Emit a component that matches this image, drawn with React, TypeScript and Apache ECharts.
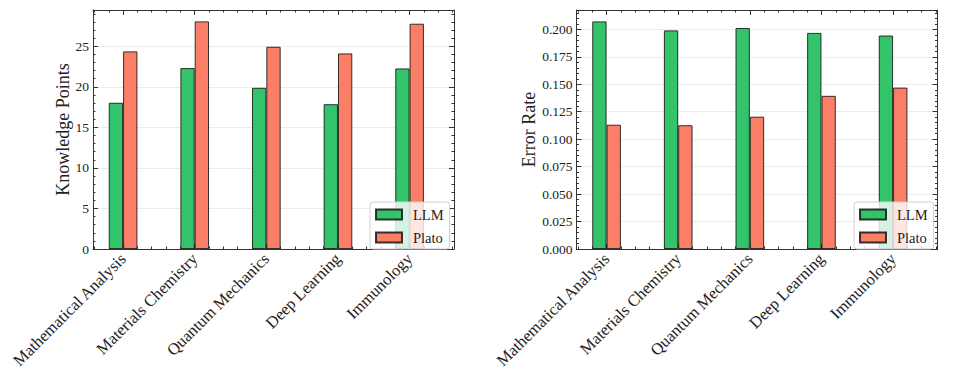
import React, { useEffect, useRef } from "react";
import * as echarts from "echarts";

const categories = [
  "Mathematical Analysis",
  "Materials Chemistry",
  "Quantum Mechanics",
  "Deep Learning",
  "Immunology",
];
const seriesNames = ["LLM", "Plato"];
const knowledgeLLM = [18.03, 22.31, 19.88, 17.86, 22.27];
const knowledgePlato = [24.37, 28.07, 24.94, 24.12, 27.78];
const errorLLM = [0.2073, 0.1991, 0.2013, 0.1968, 0.1944];
const errorPlato = [0.1132, 0.1127, 0.1205, 0.1395, 0.147];
const knowledgeTicks = [0, 5, 10, 15, 20, 25];
const errorTicks = [0, 0.025, 0.05, 0.075, 0.1, 0.125, 0.15, 0.175, 0.2];

const FONT = "'Liberation Serif', 'Times New Roman', serif";
const TEXT = "#222";
const LINE = "#333";
const GREEN = "#33c46b";
const RED = "#fb7f66";

function minorsBetween(step: number, sub: number, lo: number, hi: number) {
  const out: number[] = [];
  const d = step / sub;
  const start = Math.ceil(lo / d - 1e-9);
  const end = Math.floor(hi / d + 1e-9);
  for (let k = start; k <= end; k++) {
    if (k % sub === 0) continue;
    out.push(+(k * d).toFixed(6));
  }
  return out;
}

export default function App() {
  const ref = useRef<HTMLDivElement>(null);
  useEffect(() => {
    if (!ref.current) return;
    const chart = echarts.init(ref.current, undefined, { renderer: "svg" });

    const xMin = -0.42;
    const xMax = 4.62;
    const xMajors = categories.map((_, i) => i);
    const xMinors = minorsBetween(1, 5, xMin, xMax);

    const panels = [
      {
        left: 93,
        name: "Knowledge Points",
        nameGap: 20,
        llm: knowledgeLLM,
        plato: knowledgePlato,
        ticks: knowledgeTicks,
        step: 5,
        sub: 5,
        fmt: (v: number) => String(v),
        legendLeft: 370,
      },
      {
        left: 576.5,
        name: "Error Rate",
        nameGap: 38,
        llm: errorLLM,
        plato: errorPlato,
        ticks: errorTicks,
        step: 0.025,
        sub: 5,
        fmt: (v: number) => v.toFixed(3),
        legendLeft: 854,
      },
    ];

    const grids: any[] = [];
    const xAxes: any[] = [];
    const yAxes: any[] = [];
    const series: any[] = [];
    const legends: any[] = [];

    panels.forEach((p, g) => {
      const yMax = Math.max(...p.llm, ...p.plato) * 1.05;
      const yMinors = minorsBetween(p.step, p.sub, 0, yMax);
      grids.push({ left: p.left, top: 10, width: 361, height: 239, containLabel: false });

      const baseX = {
        type: "value",
        gridIndex: g,
        min: xMin,
        max: xMax,
        splitLine: { show: false },
        axisLine: { show: false, onZero: false },
        axisLabel: { show: false },
      };
      xAxes.push({
        ...baseX,
        position: "bottom",
        axisLine: { show: true, onZero: false, lineStyle: { color: LINE, width: 1 } },
        axisTick: { show: true, inside: true, length: 5, customValues: xMajors, lineStyle: { color: LINE } },
        axisLabel: {
          show: true,
          customValues: xMajors,
          formatter: (v: number) => categories[Math.round(v)],
          rotate: 45,
          margin: 7,
          fontFamily: FONT,
          fontSize: 16.5,
          color: TEXT,
        },
      });
      xAxes.push({
        ...baseX,
        position: "bottom",
        axisTick: { show: true, inside: true, length: 2.5, customValues: xMinors, lineStyle: { color: LINE } },
      });
      xAxes.push({
        ...baseX,
        position: "top",
        axisLine: { show: true, onZero: false, lineStyle: { color: LINE, width: 1 } },
        axisTick: { show: true, inside: true, length: 5, customValues: xMajors, lineStyle: { color: LINE } },
      });
      xAxes.push({
        ...baseX,
        position: "top",
        axisTick: { show: true, inside: true, length: 2.5, customValues: xMinors, lineStyle: { color: LINE } },
      });

      const baseY = {
        type: "value",
        gridIndex: g,
        min: 0,
        max: yMax,
        interval: p.step,
        splitLine: { show: false },
        axisLine: { show: false, onZero: false },
        axisLabel: { show: false },
      };
      yAxes.push({
        ...baseY,
        position: "left",
        name: p.name,
        nameLocation: "middle",
        nameGap: p.nameGap,
        nameTextStyle: { fontFamily: FONT, fontSize: 18, color: TEXT },
        axisLine: { show: true, onZero: false, lineStyle: { color: LINE, width: 1 } },
        axisTick: { show: true, inside: true, length: 5, customValues: p.ticks, lineStyle: { color: LINE } },
        axisLabel: {
          show: true,
          customValues: p.ticks,
          formatter: p.fmt,
          margin: 4,
          fontFamily: FONT,
          fontSize: 13.5,
          color: TEXT,
        },
        splitLine: { show: true, lineStyle: { color: "#ececec", width: 1 } },
      });
      yAxes.push({
        ...baseY,
        position: "left",
        axisTick: { show: true, inside: true, length: 2.5, customValues: yMinors, lineStyle: { color: LINE } },
      });
      yAxes.push({
        ...baseY,
        position: "right",
        axisLine: { show: true, onZero: false, lineStyle: { color: LINE, width: 1 } },
        axisTick: { show: true, inside: true, length: 5, customValues: p.ticks, lineStyle: { color: LINE } },
      });
      yAxes.push({
        ...baseY,
        position: "right",
        axisTick: { show: true, inside: true, length: 2.5, customValues: yMinors, lineStyle: { color: LINE } },
      });

      [p.llm, p.plato].forEach((vals, si) => {
        series.push({
          type: "bar",
          name: seriesNames[si],
          xAxisIndex: g * 4,
          yAxisIndex: g * 4,
          data: vals.map((v, i) => [i, v]),
          barWidth: "20%",
          barGap: "0%",
          itemStyle: {
            color: si === 0 ? GREEN : RED,
            borderColor: "rgba(20,20,20,0.85)",
            borderWidth: 1,
          },
        });
      });

      legends.push({
        data: seriesNames,
        orient: "vertical",
        left: p.legendLeft,
        top: 202,
        padding: [5, 6, 4, 5],
        itemWidth: 26,
        itemHeight: 10,
        itemGap: 8,
        icon: "rect",
        backgroundColor: "rgba(255,255,255,0.8)",
        borderColor: "#d0d0d0",
        borderWidth: 1,
        borderRadius: 3,
        selectedMode: false,
        textStyle: { fontFamily: FONT, fontSize: 14.5, color: TEXT, padding: [0, 0, 0, 6] },
      });
    });

    chart.setOption({
      animation: false,
      backgroundColor: "#ffffff",
      grid: grids,
      xAxis: xAxes,
      yAxis: yAxes,
      series,
      legend: legends,
    });
    return () => chart.dispose();
  }, []);

  return (
    <div
      ref={ref}
      style={{ position: "fixed", left: 0, top: 0, width: 960, height: 377, background: "#fff" }}
    />
  );
}
